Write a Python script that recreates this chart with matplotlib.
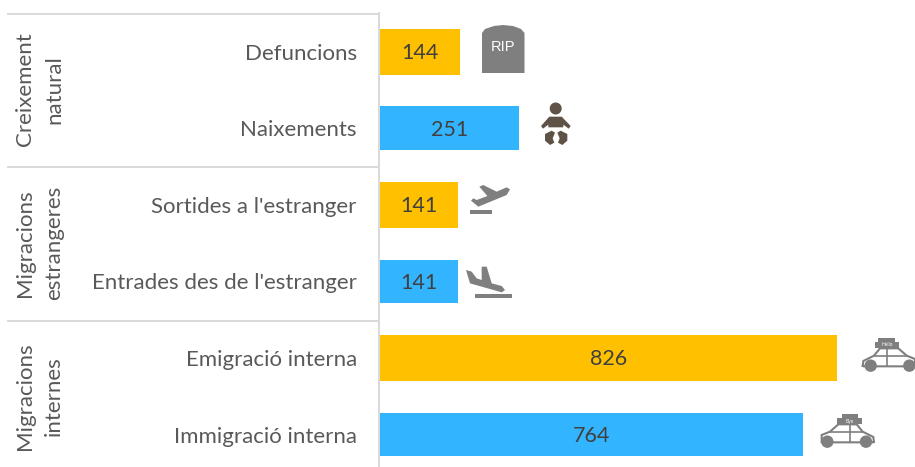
import matplotlib

matplotlib.use("Agg")
import matplotlib.pyplot as plt
from matplotlib.patches import Circle, Polygon, Rectangle

plt.rcParams["font.family"] = ["Lato", "DejaVu Sans"]

categories = [
    "Defuncions",
    "Naixements",
    "Sortides a l'estranger",
    "Entrades des de l'estranger",
    "Emigració interna",
    "Immigració interna",
]
values = [144, 251, 141, 141, 826, 764]
groups = ["Creixement\nnatural", "Migracions\nestrangeres", "Migracions\ninternes"]

ORANGE = "#ffc000"
BLUE = "#33b4ff"
GREY = "#7f7f7f"
BROWN = "#5f5347"
TXT = "#595959"
LINE = "#d9d9d9"


def zoomed(points, x0, y0):
    # icon outlines were traced on a 3x crop
    return [(x0 + px / 3, y0 + py / 3) for px, py in points]


def tombstone(ov):
    ov.add_patch(Polygon(
        [(482, 73), (482, 33), (485, 29), (494, 26), (503, 25), (513, 26), (521, 29), (524.5, 33), (524.5, 73)],
        closed=True, fc=GREY, ec="none"))
    ov.text(503, 47, "RIP", color="white", fontsize=10.5, ha="center", va="center",
            family=["Liberation Sans", "DejaVu Sans"])


def baby(ov):
    ov.add_patch(Circle((555.7, 108.5), 6, fc=BROWN, ec="none"))
    body = [(268, 320), (305, 320), (332, 348), (326, 356), (310, 344), (310, 352), (265, 352), (265, 344), (249, 356), (243, 348)]
    ov.add_patch(Polygon(zoomed(body, 460, 10), closed=True, fc=BROWN, ec="none"))
    left = [(255, 372), (275, 362), (285, 368), (278, 385), (283, 398), (270, 405), (255, 392)]
    right = [(322, 372), (302, 362), (292, 368), (299, 385), (294, 398), (307, 405), (322, 392)]
    ov.add_patch(Polygon(zoomed(left, 460, 10), closed=True, fc=BROWN, ec="none"))
    ov.add_patch(Polygon(zoomed(right, 460, 10), closed=True, fc=BROWN, ec="none"))


def planes(ov):
    up = [(180, 58), (170, 52), (140, 65), (100, 45), (88, 50), (112, 78), (80, 90), (70, 85), (63, 92), (85, 110), (170, 75)]
    down = [(48, 300), (65, 305), (80, 325), (95, 330), (95, 290), (110, 290), (125, 340), (155, 348), (165, 360), (155, 367), (60, 340)]
    ov.add_patch(Polygon(zoomed(up, 450, 170), closed=True, fc=GREY, ec="none"))
    ov.add_patch(Polygon(zoomed(down, 450, 170), closed=True, fc=GREY, ec="none"))
    ov.add_patch(Rectangle((469.5, 209.5), 22, 4, fc=GREY, ec="none"))
    ov.add_patch(Rectangle((475, 293.5), 37, 4, fc=GREY, ec="none"))


def car(ov, word, flip, dy):
    def pts(seq):
        return zoomed([(410 - x if flip else x, y + dy) for x, y in seq], 800, 325)

    outline = [(188, 125), (190, 108), (222, 92), (240, 70), (295, 70), (320, 92), (345, 102), (345, 124), (188, 124)]
    ov.add_patch(Polygon(pts(outline), closed=True, fc="white", ec=GREY, lw=1.5))
    ov.plot(*zip(*pts([(222, 92), (320, 92)])), color=GREY, lw=1.2)
    ov.plot(*zip(*pts([(260, 72), (260, 124)])), color=GREY, lw=1.2)
    box = [(225, 70), (225, 52), (235, 52), (235, 38), (285, 38), (285, 52), (298, 52), (298, 70)]
    ov.add_patch(Polygon(pts(box), closed=True, fc=GREY, ec="none"))
    for wx in (212, 328):
        c = pts([(wx, 122)])[0]
        ov.add_patch(Circle(c, 6.2, fc=GREY, ec="none"))
    mid = pts([(261, 60)])[0]
    ov.text(mid[0], mid[1], word, color="white", fontsize=3.5, ha="center", va="center")


if __name__ == "__main__":
    fig = plt.figure(figsize=(9.15, 4.67), dpi=100)

    # one overlay in pixels for the group rules and icons
    ov = fig.add_axes([0, 0, 1, 1], zorder=3)
    ov.set_xlim(0, 915)
    ov.set_ylim(467, 0)
    ov.axis("off")
    ov.patch.set_alpha(0)

    ax = fig.add_axes([380 / 915, 0, 535 / 915, (467 - 13) / 467])
    ax.spines["left"].set_position(("outward", 0.7))
    for i, (cat, val) in enumerate(zip(categories, values)):
        is_out = i % 2 == 0
        ax.barh(i, val, height=0.6 if is_out else 0.565, color=ORANGE if is_out else BLUE, linewidth=0)
        ax.text(val / 2, i + 0.02, str(val), ha="center", va="center", fontsize=15.5, color="#404040")

    ax.set_xlim(0, 535 / 0.5535)
    ax.set_ylim(5.424, -0.503)
    ax.set_yticks(range(len(categories)))
    ax.set_yticklabels(categories, fontsize=16, color=TXT)
    ax.tick_params(axis="y", length=0, pad=16)
    ax.xaxis.set_visible(False)
    for s in ["top", "right", "bottom"]:
        ax.spines[s].set_visible(False)
    ax.spines["left"].set_color(LINE)
    ax.spines["left"].set_linewidth(1.4)

    for y in [13.5, 166.5, 320.5]:
        ov.plot([7, 379], [y, y], color=LINE, lw=1.4, solid_capstyle="butt")
    for label, y in zip(groups, [89.5, 243, 396]):
        ov.text(39.5, y, label, rotation=90, ha="center", va="center", ma="center",
                fontsize=16, color=TXT, linespacing=1.55)

    tombstone(ov)
    baby(ov)
    planes(ov)
    car(ov, "Hello", False, 0)
    car(ov, "Bye", True, 228)

    plt.savefig("out.png", dpi=100)
